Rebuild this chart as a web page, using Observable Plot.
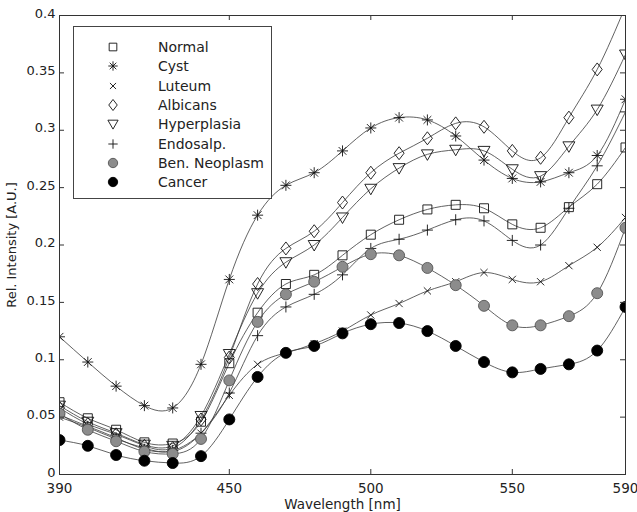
<!DOCTYPE html>
<html>
<head>
<meta charset="utf-8">
<script src="https://cdn.jsdelivr.net/npm/d3@7"></script>
<script src="https://cdn.jsdelivr.net/npm/@observablehq/plot@0.6"></script>
<style>
  body { margin: 0; background: #fff; }
  #wrap { position: relative; width: 637px; height: 512px; font-family: "DejaVu Sans", sans-serif; color: #222; }
  #legend { position: absolute; left: 73px; top: 26px; width: 199px; height: 173px; border: 1px solid #444; background: #fff; box-sizing: border-box; }
  .row { position: absolute; left: 0; width: 198px; height: 20px; }
  .row svg { position: absolute; left: 27px; top: 0; }
  .row span { position: absolute; left: 84px; top: 1px; font-size: 14px; line-height: 18px; white-space: nowrap; }
</style>
</head>
<body>
<div id="wrap"><div id="legend"></div></div>
<script>
// Wavelength samples (nm)
const wavelength = [390, 400, 410, 420, 430, 440, 450, 460, 470, 480, 490, 500, 510, 520, 530, 540, 550, 560, 570, 580, 590];

// Relative intensity per tissue class
const normal      = [0.063, 0.049, 0.039, 0.028, 0.027, 0.046, 0.097, 0.141, 0.166, 0.174, 0.191, 0.209, 0.222, 0.231, 0.235, 0.232, 0.218, 0.215, 0.233, 0.253, 0.285];
const cyst        = [0.120, 0.098, 0.077, 0.060, 0.058, 0.096, 0.170, 0.226, 0.252, 0.263, 0.282, 0.302, 0.311, 0.309, 0.295, 0.274, 0.258, 0.255, 0.263, 0.278, 0.327];
const luteum      = [0.050, 0.041, 0.031, 0.023, 0.020, 0.036, 0.069, 0.096, 0.106, 0.114, 0.125, 0.139, 0.149, 0.160, 0.168, 0.176, 0.170, 0.168, 0.182, 0.198, 0.224];
const albicans    = [0.058, 0.044, 0.035, 0.025, 0.023, 0.048, 0.102, 0.166, 0.197, 0.212, 0.237, 0.263, 0.280, 0.293, 0.306, 0.303, 0.282, 0.276, 0.311, 0.353, 0.408];
const hyperplasia = [0.060, 0.046, 0.036, 0.026, 0.025, 0.051, 0.105, 0.158, 0.185, 0.200, 0.224, 0.249, 0.267, 0.279, 0.283, 0.282, 0.266, 0.260, 0.286, 0.318, 0.366];
const endosalp    = [0.052, 0.042, 0.032, 0.022, 0.021, 0.036, 0.071, 0.121, 0.146, 0.157, 0.174, 0.197, 0.205, 0.213, 0.222, 0.221, 0.204, 0.200, 0.232, 0.269, 0.316];
const benNeoplasm = [0.053, 0.039, 0.029, 0.020, 0.018, 0.031, 0.082, 0.133, 0.157, 0.168, 0.181, 0.192, 0.191, 0.180, 0.165, 0.147, 0.130, 0.130, 0.138, 0.158, 0.215];
const cancer      = [0.030, 0.025, 0.017, 0.012, 0.010, 0.016, 0.048, 0.085, 0.106, 0.112, 0.123, 0.131, 0.132, 0.125, 0.112, 0.098, 0.089, 0.092, 0.096, 0.108, 0.146];

const seriesNames = ["Normal", "Cyst", "Luteum", "Albicans", "Hyperplasia", "Endosalp.", "Ben. Neoplasm", "Cancer"];
const seriesValues = [normal, cyst, luteum, albicans, hyperplasia, endosalp, benNeoplasm, cancer];

// Axis ticks
const xTicks = [390, 450, 500, 550, 590];
const yTicks = [0, 0.05, 0.1, 0.15, 0.2, 0.25, 0.3, 0.35, 0.4];
const yTickLabels = ["0", "0.05", "0.1", "0.15", "0.2", "0.25", "0.3", "0.35", "0.4"];

// Marker shapes; symbol size is pi*r^2, so r is recovered from it
const rad = s => Math.sqrt(s / Math.PI);
const symbols = {
  square:   { draw(c, s) { const r = rad(s); c.rect(-r, -r, 2 * r, 2 * r); } },
  asterisk: { draw(c, s) { const r = rad(s), d = r * 0.7071;
    c.moveTo(-r, 0); c.lineTo(r, 0); c.moveTo(0, -r); c.lineTo(0, r);
    c.moveTo(-d, -d); c.lineTo(d, d); c.moveTo(-d, d); c.lineTo(d, -d); } },
  times:    { draw(c, s) { const r = rad(s);
    c.moveTo(-r, -r); c.lineTo(r, r); c.moveTo(-r, r); c.lineTo(r, -r); } },
  diamond:  { draw(c, s) { const r = rad(s);
    c.moveTo(0, -1.3 * r); c.lineTo(r, 0); c.lineTo(0, 1.3 * r); c.lineTo(-r, 0); c.closePath(); } },
  triDown:  { draw(c, s) { const r = rad(s);
    c.moveTo(-r, -0.75 * r); c.lineTo(r, -0.75 * r); c.lineTo(0, r); c.closePath(); } },
  plus:     { draw(c, s) { const r = rad(s);
    c.moveTo(-r, 0); c.lineTo(r, 0); c.moveTo(0, -r); c.lineTo(0, r); } },
  circle:   { draw(c, s) { const r = rad(s); c.moveTo(r, 0); c.arc(0, 0, r, 0, 2 * Math.PI); } }
};

const styles = [
  { symbol: symbols.square,   r: 4.5, fill: "none",    stroke: "#111" },
  { symbol: symbols.asterisk, r: 5.5, fill: "none",    stroke: "#111" },
  { symbol: symbols.times,    r: 3.6, fill: "none",    stroke: "#111" },
  { symbol: symbols.diamond,  r: 5,   fill: "none",    stroke: "#111" },
  { symbol: symbols.triDown,  r: 6,   fill: "none",    stroke: "#111" },
  { symbol: symbols.plus,     r: 5.5, fill: "none",    stroke: "#111" },
  { symbol: symbols.circle,   r: 5.5, fill: "#8c8c8c", stroke: "#555" },
  { symbol: symbols.circle,   r: 5.5, fill: "#000",    stroke: "#000" }
];

const tables = seriesValues.map((vals, i) =>
  wavelength.map((w, j) => ({ series: seriesNames[i], wl: w, v: vals[j] })));

const seriesMarks = tables.flatMap((rows, i) => [
  Plot.line(rows, { x: "wl", y: "v", curve: "natural", stroke: "#3a3a3a", strokeWidth: 0.8, clip: true }),
  Plot.dot(rows, { x: "wl", y: "v", symbol: styles[i].symbol, r: styles[i].r,
                   fill: styles[i].fill, stroke: styles[i].stroke, strokeWidth: 0.9, clip: true })
]);

// Inward-pointing tick marks on all four sides (insets leave 5px stubs)
const TICK = 5;
const frameW = 637 - 59 - 12, frameH = 512 - 15 - 38;
const tickMarks = [
  Plot.tickX(xTicks, { x: d => d, insetTop: frameH - TICK, stroke: "#333" }),
  Plot.tickX(xTicks, { x: d => d, insetBottom: frameH - TICK, stroke: "#333" }),
  Plot.tickY(yTicks, { y: d => d, insetRight: frameW - TICK, stroke: "#333" }),
  Plot.tickY(yTicks, { y: d => d, insetLeft: frameW - TICK, stroke: "#333" })
];

const chart = Plot.plot({
  width: 637,
  height: 512,
  marginLeft: 59,
  marginRight: 12,
  marginTop: 15,
  marginBottom: 38,
  style: { fontFamily: "DejaVu Sans, sans-serif", fontSize: "13px", color: "#222", background: "#fff" },
  x: { domain: [390, 590] },
  y: { domain: [0, 0.4] },
  marks: [
    ...seriesMarks,
    ...tickMarks,
    Plot.frame({ stroke: "#333" }),
    Plot.axisX({ anchor: "bottom", ticks: xTicks, tickSize: 0, tickPadding: 9, tickFormat: d => String(d),
                 label: "Wavelength [nm]", labelAnchor: "center", labelOffset: 34, labelArrow: "none", fontSize: 13.5 }),
    Plot.axisY({ anchor: "left", ticks: yTicks, tickSize: 0, tickPadding: 4, dy: -2,
                 tickFormat: d => yTickLabels[yTicks.indexOf(d)],
                 label: "Rel. Intensity [A.U.]", labelAnchor: "center", labelOffset: 53, labelArrow: "none", fontSize: 13 })
  ]
});
document.getElementById("wrap").prepend(chart);

// Legend box inside the plot area
const legend = d3.select("#legend");
seriesNames.forEach((name, i) => {
  const row = legend.append("div").attr("class", "row").style("top", `${10 + i * 19.3}px`);
  const svg = row.append("svg").attr("width", 24).attr("height", 20);
  const st = styles[i];
  const rr = st.r * 0.85;
  svg.append("path")
    .attr("transform", "translate(12,10)")
    .attr("d", d3.symbol(st.symbol, Math.PI * rr * rr)())
    .attr("fill", st.fill)
    .attr("stroke", st.stroke)
    .attr("stroke-width", 0.9);
  row.append("span").text(name);
});
</script>
</body>
</html>
